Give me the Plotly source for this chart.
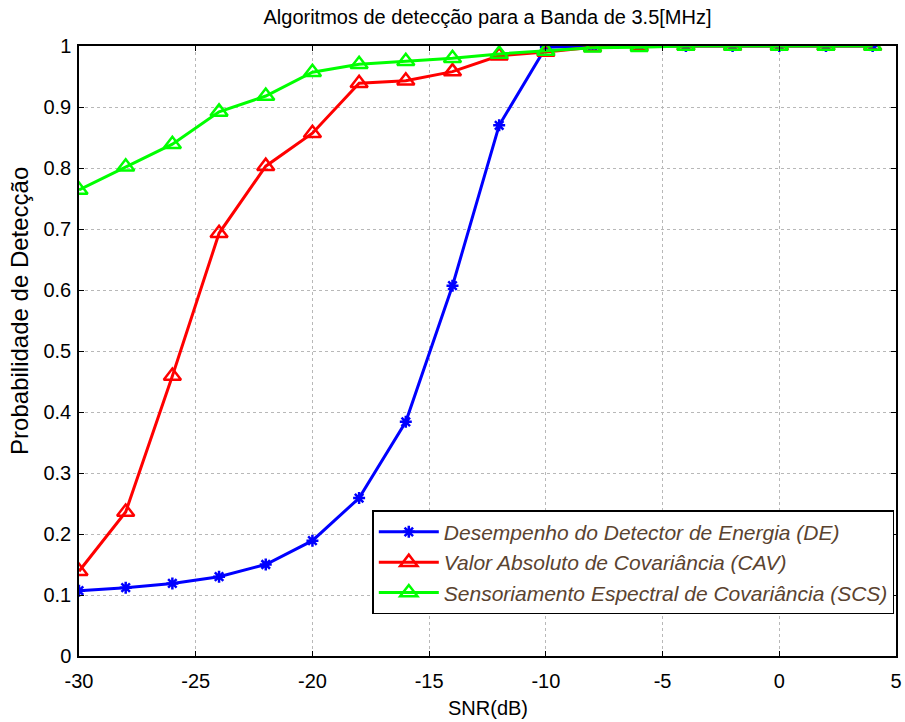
import plotly.graph_objects as go

snr = [-30, -28, -26, -24, -22, -20, -18, -16, -14, -12, -10, -8, -6, -4, -2, 0, 2, 4]
de = [0.107, 0.112, 0.119, 0.130, 0.150, 0.189, 0.259, 0.384, 0.607, 0.870, 0.998, 1.0, 1.0, 1.0, 1.0, 1.0, 1.0, 1.0]
cav = [0.139, 0.236, 0.459, 0.693, 0.803, 0.857, 0.939, 0.943, 0.958, 0.984, 0.990, 0.998, 1.0, 1.0, 1.0, 1.0, 1.0, 1.0]
scs = [0.764, 0.802, 0.839, 0.892, 0.918, 0.957, 0.970, 0.975, 0.980, 0.987, 0.992, 0.997, 0.998, 1.0, 1.0, 1.0, 1.0, 1.0]

names = ["Desempenho do Detector de Energia (DE)",
         "Valor Absoluto de Covariância (CAV)",
         "Sensoriamento Espectral de Covariância (SCS)"]

FONT = "Liberation Sans Narrow, Liberation Sans, Arial, sans-serif"

fig = go.Figure()
fig.add_trace(go.Scatter(x=snr, y=de, mode="lines+markers", name=names[0],
                         line=dict(color="#0000ff", width=3),
                         marker=dict(symbol="asterisk-open", size=10, color="#0000ff",
                                     line=dict(color="#0000ff", width=2.5))))
fig.add_trace(go.Scatter(x=snr, y=cav, mode="lines+markers", name=names[1],
                         line=dict(color="#ff0000", width=3),
                         marker=dict(symbol="triangle-up-open", size=15, color="#ff0000",
                                     line=dict(color="#ff0000", width=2.5))))
fig.add_trace(go.Scatter(x=snr, y=scs, mode="lines+markers", name=names[2],
                         line=dict(color="#00ff00", width=3),
                         marker=dict(symbol="triangle-up-open", size=15, color="#00ff00",
                                     line=dict(color="#00ff00", width=2.5))))

axis_common = dict(showline=True, linecolor="black", linewidth=1.5, mirror="ticks",
                   ticks="inside", ticklen=5, tickcolor="black", automargin=False,
                   showgrid=True, gridcolor="#b8b8b8", griddash="dot", gridwidth=1,
                   zeroline=False, tickfont=dict(family=FONT, size=20, color="black"))

fig.update_layout(
    width=905, height=722,
    margin=dict(l=79, r=9, t=46, b=66),
    paper_bgcolor="white", plot_bgcolor="white",
    title=dict(text="Algoritmos de detecção para a Banda de 3.5[MHz]",
               x=0.5, xref="paper", xanchor="center", y=0.977, yanchor="middle",
               font=dict(family=FONT, size=20, color="black")),
    xaxis=dict(range=[-30, 5], tickmode="array", tickvals=[-30, -25, -20, -15, -10, -5, 0, 5],
               ticktext=["-30", "-25", "-20", "-15", "-10", "-5", "0", "5"],
               ticklabelstandoff=6,
               **axis_common),
    yaxis=dict(range=[0, 1], tickmode="array", tickvals=[i / 10 for i in range(11)],
               ticktext=["0", "0.1", "0.2", "0.3", "0.4", "0.5", "0.6", "0.7", "0.8", "0.9", "1"],
               ticklabelstandoff=2,
               **axis_common),
    legend=dict(x=0.359, y=0.239, xanchor="left", yanchor="top",
                bgcolor="white", bordercolor="black", borderwidth=1.5,
                font=dict(family=FONT, size=21, color="#5a4330", style="italic"),
                tracegroupgap=0, itemwidth=60),
    showlegend=True,
)

fig.add_annotation(text="Probabilidade de Detecção", textangle=-90,
                   xref="paper", yref="paper", x=-0.072, y=0.566,
                   xanchor="center", yanchor="middle", showarrow=False,
                   font=dict(family=FONT, size=24, color="black"))
fig.add_annotation(text="SNR(dB)",
                   xref="paper", yref="paper", x=0.5, y=-0.085,
                   xanchor="center", yanchor="middle", showarrow=False,
                   font=dict(family=FONT, size=20, color="black"))

fig.write_html("out.html")
